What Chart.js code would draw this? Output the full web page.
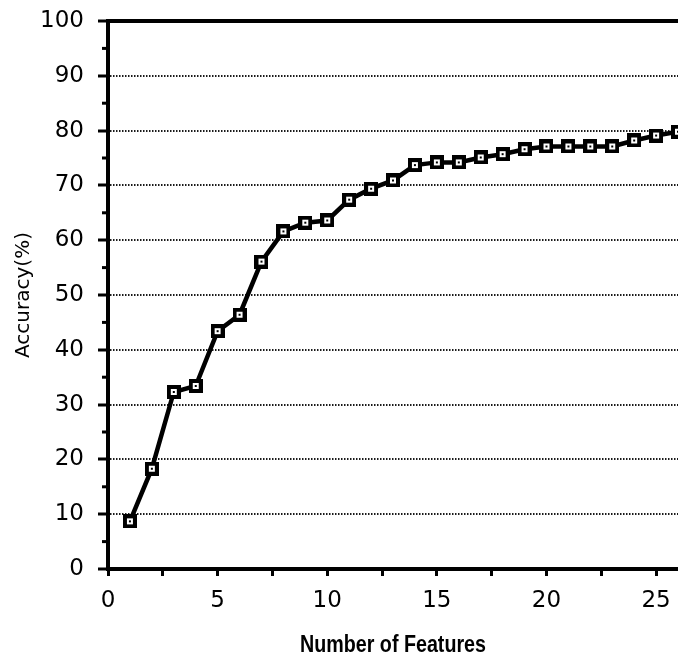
<!DOCTYPE html>
<html>
<head>
<meta charset="utf-8">
<script src="https://cdn.jsdelivr.net/npm/chart.js@4/dist/chart.umd.min.js"></script>
<style>
  html, body { margin: 0; padding: 0; background: #fff; }
  #wrap { width: 678px; height: 656px; }
</style>
</head>
<body>
<div id="wrap"><canvas id="accChart"></canvas></div>
<script>
// number of features used, and classification accuracy (%) for each
const features = [1, 2, 3, 4, 5, 6, 7, 8, 9, 10, 11, 12, 13, 14, 15, 16, 17, 18, 19, 20, 21, 22, 23, 24, 25, 26];
const accuracy = [8.7, 18.3, 32.3, 33.4, 43.4, 46.4, 56.1, 61.6, 63.2, 63.6, 67.4, 69.4, 70.9, 73.7, 74.2, 74.2, 75.1, 75.7, 76.6, 77.1, 77.1, 77.1, 77.1, 78.2, 79.1, 79.8];

const xMax = 26;
const xLabelStep = 5;
const xTickStep = 2.5;
const yTickStep = 10;
const yMinorStep = 5;
const xTitle = 'Number of Features';

// square marker: black frame, white centre, small dot
const marker = document.createElement('canvas');
marker.width = 14;
marker.height = 14;
const mctx = marker.getContext('2d');
mctx.fillStyle = '#000';
mctx.fillRect(0, 0, 14, 14);
mctx.fillStyle = '#fff';
mctx.fillRect(4, 4, 6, 6);
mctx.fillStyle = '#000';
mctx.fillRect(6, 6, 2, 2);

// short minor ticks on the y axis, halfway between the labelled ones
const minorTicks = {
  id: 'minorTicks',
  afterDraw(chart) {
    const y = chart.scales.y;
    const ctx = chart.ctx;
    ctx.save();
    ctx.strokeStyle = '#000';
    ctx.lineWidth = 3;
    for (let v = yMinorStep; v < y.max; v += yTickStep) {
      const py = y.getPixelForValue(v);
      ctx.beginPath();
      ctx.moveTo(y.right - 6, py);
      ctx.lineTo(y.right, py);
      ctx.stroke();
    }
    ctx.restore();
  }
};

// x axis title in a condensed bold face (squeezed horizontally)
const condensedTitle = {
  id: 'condensedTitle',
  afterDraw(chart) {
    const area = chart.chartArea;
    const ctx = chart.ctx;
    ctx.save();
    ctx.translate((area.left + area.right) / 2, chart.height - 4);
    ctx.scale(0.82, 1);
    ctx.font = "bold 24px 'Liberation Sans', Arial, sans-serif";
    ctx.fillStyle = '#000';
    ctx.textAlign = 'center';
    ctx.textBaseline = 'alphabetic';
    ctx.fillText(xTitle, 0, 0);
    ctx.restore();
  }
};

const ctx = document.getElementById('accChart');
new Chart(ctx, {
  type: 'line',
  data: {
    datasets: [{
      data: features.map((f, i) => ({ x: f, y: accuracy[i] })),
      borderColor: '#000',
      borderWidth: 4.5,
      pointStyle: marker,
      pointRadius: 7,
      pointHoverRadius: 7,
      tension: 0
    }]
  },
  options: {
    responsive: true,
    maintainAspectRatio: false,
    animation: false,
    events: [],
    layout: { autoPadding: false, padding: 0 },
    plugins: {
      legend: { display: false },
      tooltip: { enabled: false }
    },
    scales: {
      x: {
        type: 'linear',
        min: 0,
        max: xMax,
        afterFit: (scale) => {
          scale.height = 87;
          scale.paddingRight = 0;
        },
        border: { display: true, color: '#000', width: 4 },
        grid: {
          drawOnChartArea: false,
          drawTicks: true,
          tickLength: 7,
          tickWidth: 3,
          tickColor: '#000',
          color: '#000'
        },
        ticks: {
          stepSize: xTickStep,
          includeBounds: false,
          autoSkip: false,
          maxRotation: 0,
          padding: 11,
          color: '#000',
          font: { family: 'DejaVu Sans', size: 23 },
          callback: (v) => (v % xLabelStep === 0 ? String(v) : '')
        }
      },
      xTop: {
        type: 'linear',
        position: 'top',
        min: 0,
        max: xMax,
        afterFit: (scale) => {
          scale.paddingRight = 0;
        },
        border: { display: true, color: '#000', width: 4 },
        grid: { display: false, drawTicks: false },
        ticks: { display: false }
      },
      y: {
        min: 0,
        max: 100,
        afterFit: (scale) => {
          scale.width = 108;
          scale.paddingTop = 21;
          scale.paddingBottom = 0;
        },
        border: { display: true, color: '#000', width: 4, dash: [1.5, 1.5] },
        grid: {
          drawTicks: true,
          tickLength: 10,
          tickWidth: 3,
          tickColor: '#000',
          lineWidth: 2,
          color: (c) => (c.tick && (c.tick.value === 0 || c.tick.value === 100) ? 'rgba(0,0,0,0)' : '#1a1a1a')
        },
        ticks: {
          stepSize: yTickStep,
          padding: 14,
          color: '#000',
          font: { family: 'DejaVu Sans', size: 23 }
        },
        title: {
          display: true,
          text: 'Accuracy(%)',
          color: '#000',
          font: { family: 'DejaVu Sans', size: 20 },
          padding: { top: 12, bottom: 0 }
        }
      }
    }
  },
  plugins: [minorTicks, condensedTitle]
});
</script>
</body>
</html>
